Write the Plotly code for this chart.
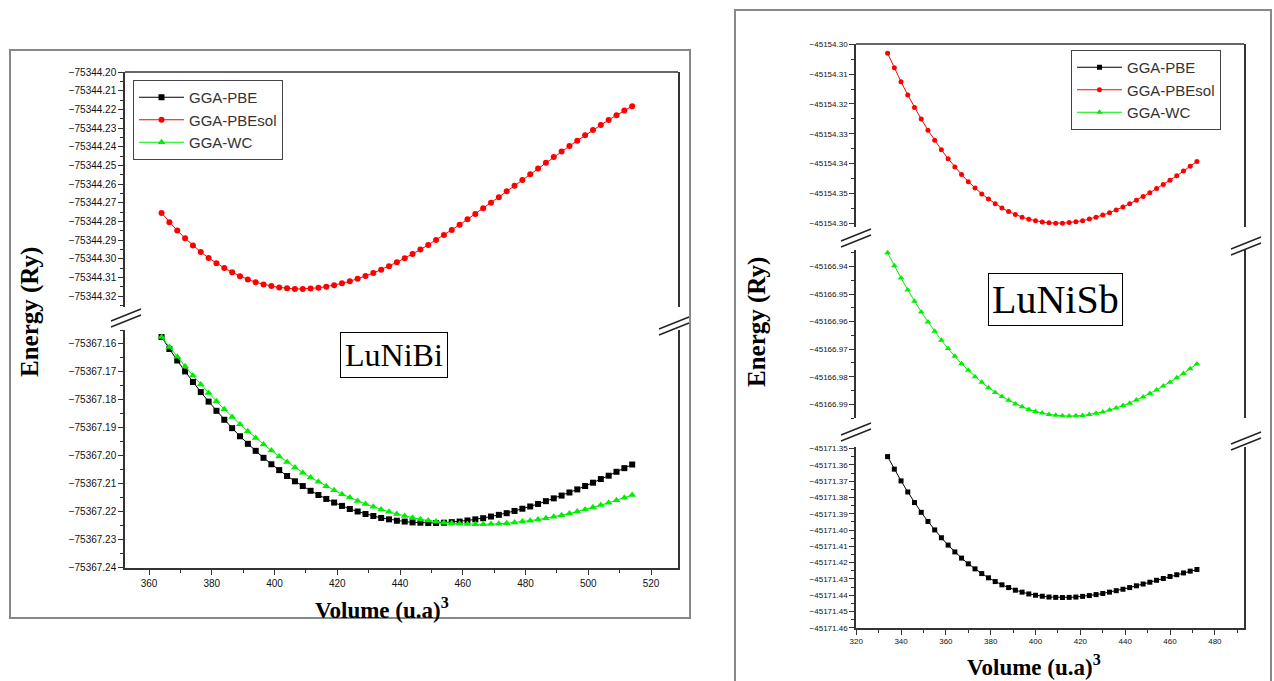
import plotly.graph_objects as go

# ---------------- data: LuNiBi (left panel) ----------------
vol_lunibi = [364, 366.5, 369, 371.5, 374, 376.5, 379, 381.5, 384, 386.5, 389, 391.5, 394, 396.5,
              399, 401.5, 404, 406.5, 409, 411.5, 414, 416.5, 419, 421.5, 424, 426.5, 429, 431.5,
              434, 436.5, 439, 441.5, 444, 446.5, 449, 451.5, 454, 456.5, 459, 461.5, 464, 466.5,
              469, 471.5, 474, 476.5, 479, 481.5, 484, 486.5, 489, 491.5, 494, 496.5, 499, 501.5,
              504, 506.5, 509, 511.5, 514]

e_lunibi_pbe = [-75367.1575, -75367.1618, -75367.1659, -75367.1698, -75367.1736, -75367.1772,
                -75367.1806, -75367.1839, -75367.1871, -75367.1901, -75367.1930, -75367.1957,
                -75367.1982, -75367.2007, -75367.2030, -75367.2051, -75367.2072, -75367.2091,
                -75367.2108, -75367.2125, -75367.2140, -75367.2154, -75367.2167, -75367.2179,
                -75367.2190, -75367.2199, -75367.2208, -75367.2215, -75367.2222, -75367.2227,
                -75367.2232, -75367.2235, -75367.2238, -75367.2239, -75367.2240, -75367.2240,
                -75367.2239, -75367.2237, -75367.2235, -75367.2231, -75367.2227, -75367.2223,
                -75367.2217, -75367.2211, -75367.2205, -75367.2197, -75367.2189, -75367.2181,
                -75367.2172, -75367.2162, -75367.2152, -75367.2142, -75367.2131, -75367.2120,
                -75367.2108, -75367.2096, -75367.2083, -75367.2071, -75367.2057, -75367.2044,
                -75367.2031]

e_lunibi_pbesol = [-75344.2755, -75344.2804, -75344.2849, -75344.2890, -75344.2929, -75344.2964,
                   -75344.2996, -75344.3025, -75344.3050, -75344.3073, -75344.3094, -75344.3111,
                   -75344.3126, -75344.3138, -75344.3147, -75344.3154, -75344.3159, -75344.3162,
                   -75344.3162, -75344.3160, -75344.3156, -75344.3150, -75344.3142, -75344.3132,
                   -75344.3121, -75344.3108, -75344.3093, -75344.3077, -75344.3059, -75344.3040,
                   -75344.3019, -75344.2997, -75344.2975, -75344.2951, -75344.2926, -75344.2900,
                   -75344.2873, -75344.2846, -75344.2818, -75344.2789, -75344.2760, -75344.2730,
                   -75344.2700, -75344.2670, -75344.2639, -75344.2609, -75344.2578, -75344.2547,
                   -75344.2516, -75344.2486, -75344.2455, -75344.2425, -75344.2396, -75344.2367,
                   -75344.2338, -75344.2310, -75344.2283, -75344.2256, -75344.2231, -75344.2206,
                   -75344.2182]

e_lunibi_wc = [-75367.1575, -75367.1611, -75367.1646, -75367.1680, -75367.1713, -75367.1745,
               -75367.1775, -75367.1805, -75367.1833, -75367.1861, -75367.1887, -75367.1912,
               -75367.1936, -75367.1959, -75367.1981, -75367.2002, -75367.2022, -75367.2042,
               -75367.2060, -75367.2077, -75367.2093, -75367.2109, -75367.2123, -75367.2137,
               -75367.2149, -75367.2161, -75367.2172, -75367.2182, -75367.2192, -75367.2200,
               -75367.2208, -75367.2215, -75367.2221, -75367.2227, -75367.2231, -75367.2235,
               -75367.2239, -75367.2241, -75367.2243, -75367.2244, -75367.2245, -75367.2245,
               -75367.2244, -75367.2243, -75367.2241, -75367.2238, -75367.2235, -75367.2232,
               -75367.2228, -75367.2223, -75367.2218, -75367.2212, -75367.2206, -75367.2199,
               -75367.2192, -75367.2184, -75367.2176, -75367.2168, -75367.2159, -75367.2150,
               -75367.2140]

# ---------------- data: LuNiSb (right panel) ----------------
vol_lunisb = [334, 337, 340, 343, 346, 349, 352, 355, 358, 361, 364, 367, 370, 373, 376, 379,
              382, 385, 388, 391, 394, 397, 400, 403, 406, 409, 412, 415, 418, 421, 424, 427,
              430, 433, 436, 439, 442, 445, 448, 451, 454, 457, 460, 463, 466, 469, 472]

e_lunisb_pbe = [-45171.3549, -45171.3626, -45171.3698, -45171.3766, -45171.3831, -45171.3891,
                -45171.3947, -45171.3999, -45171.4047, -45171.4092, -45171.4134, -45171.4172,
                -45171.4207, -45171.4238, -45171.4267, -45171.4293, -45171.4316, -45171.4336,
                -45171.4353, -45171.4369, -45171.4381, -45171.4392, -45171.4400, -45171.4406,
                -45171.4411, -45171.4413, -45171.4414, -45171.4413, -45171.4411, -45171.4407,
                -45171.4402, -45171.4396, -45171.4389, -45171.4381, -45171.4372, -45171.4363,
                -45171.4353, -45171.4342, -45171.4331, -45171.4320, -45171.4308, -45171.4297,
                -45171.4285, -45171.4274, -45171.4263, -45171.4252, -45171.4242]

e_lunisb_pbesol = [-45154.3030, -45154.3079, -45154.3126, -45154.3170, -45154.3212, -45154.3251,
                   -45154.3288, -45154.3322, -45154.3354, -45154.3384, -45154.3412, -45154.3437,
                   -45154.3461, -45154.3482, -45154.3502, -45154.3519, -45154.3535, -45154.3549,
                   -45154.3561, -45154.3571, -45154.3580, -45154.3587, -45154.3592, -45154.3596,
                   -45154.3599, -45154.3600, -45154.3600, -45154.3598, -45154.3595, -45154.3592,
                   -45154.3586, -45154.3580, -45154.3573, -45154.3565, -45154.3556, -45154.3546,
                   -45154.3535, -45154.3523, -45154.3511, -45154.3498, -45154.3484, -45154.3470,
                   -45154.3456, -45154.3441, -45154.3425, -45154.3409, -45154.3393]

e_lunisb_wc = [-45166.9350, -45166.9397, -45166.9442, -45166.9485, -45166.9526, -45166.9565,
               -45166.9601, -45166.9635, -45166.9668, -45166.9698, -45166.9726, -45166.9753,
               -45166.9777, -45166.9800, -45166.9820, -45166.9840, -45166.9857, -45166.9872,
               -45166.9886, -45166.9899, -45166.9909, -45166.9919, -45166.9926, -45166.9932,
               -45166.9937, -45166.9940, -45166.9942, -45166.9943, -45166.9942, -45166.9941,
               -45166.9937, -45166.9933, -45166.9928, -45166.9921, -45166.9914, -45166.9905,
               -45166.9896, -45166.9885, -45166.9874, -45166.9861, -45166.9848, -45166.9834,
               -45166.9820, -45166.9804, -45166.9788, -45166.9771, -45166.9754]

series_names = ["GGA-PBE", "GGA-PBEsol", "GGA-WC"]

# ---------------- helpers ----------------
W, H = 1274, 681


def px(x):
    return x / W


def py(y):
    return 1 - y / H


BLACK, RED, GREEN = "#000000", "#ff0000", "#00ee00"
tick_font_l = dict(family="Liberation Sans, Arial", size=10, color="#111")
tick_font_r = dict(family="Liberation Sans, Arial", size=8, color="#111")

fig = go.Figure()


def add(x, y, name, xa, ya, leg, color, symbol, size):
    fig.add_trace(go.Scatter(
        x=x, y=y, name=name, mode="lines+markers", xaxis=xa, yaxis=ya, legend=leg,
        line=dict(color=color, width=1),
        marker=dict(symbol=symbol, size=size, color=color),
        cliponaxis=False, hoverinfo="x+y+name"))


# left panel
add(vol_lunibi, e_lunibi_pbe, series_names[0], "x", "y", "legend", BLACK, "square", 6)
add(vol_lunibi, e_lunibi_pbesol, series_names[1], "x", "y2", "legend", RED, "circle", 6)
add(vol_lunibi, e_lunibi_wc, series_names[2], "x", "y", "legend", GREEN, "triangle-up", 7)
# right panel
add(vol_lunisb, e_lunisb_pbe, series_names[0], "x3", "y3", "legend2", BLACK, "square", 5)
add(vol_lunisb, e_lunisb_pbesol, series_names[1], "x3", "y5", "legend2", RED, "circle", 5)
add(vol_lunisb, e_lunisb_wc, series_names[2], "x3", "y4", "legend2", GREEN, "triangle-up", 6)


def xax(domain, rng, anchor, font):
    return dict(domain=domain, range=rng, anchor=anchor, showline=True, linecolor="#333",
                linewidth=1.5, ticks="outside", ticklen=5, tickwidth=1, tickcolor="#333",
                tick0=320, dtick=20, minor=dict(dtick=10, ticks="outside", ticklen=3, tickcolor="#333"),
                showgrid=False, zeroline=False, tickfont=font, automargin=False)


def yax(domain, rng, anchor, font, t0):
    return dict(domain=domain, range=rng, anchor=anchor, showline=True, linecolor="#333",
                linewidth=1.5, mirror=True, ticks="outside", ticklen=5, tickwidth=1,
                tickcolor="#333", tick0=t0, dtick=0.01, tickformat=".2f",
                minor=dict(dtick=0.005, ticks="outside", ticklen=3, tickcolor="#333"),
                showgrid=False, zeroline=False, tickfont=font, automargin=False)


legend_common = dict(xanchor="left", yanchor="top", bordercolor="#444", borderwidth=1,
                     bgcolor="white", tracegroupgap=0, itemwidth=45,
                     font=dict(family="Liberation Sans, Arial", size=15, color="#333"))


def brk(cx, cy):
    out = []
    for off in (-3, 3):
        out.append(dict(type="line", xref="paper", yref="paper",
                        x0=px(cx - 15), y0=py(cy + off + 6), x1=px(cx + 15), y1=py(cy + off - 6),
                        line=dict(color="#222", width=1.5)))
    return out


shapes = [
    dict(type="rect", xref="paper", yref="paper", x0=px(10), x1=px(690), y0=py(618), y1=py(50),
         line=dict(color="#888", width=2)),
    dict(type="rect", xref="paper", yref="paper", x0=px(735), x1=px(1271), y0=-0.05, y1=py(10),
         line=dict(color="#888", width=2)),
    dict(type="line", xref="x domain", yref="y2 domain", x0=0, x1=1, y0=1, y1=1,
         line=dict(color="#333", width=1.5)),
    dict(type="line", xref="x3 domain", yref="y5 domain", x0=0, x1=1, y0=1, y1=1,
         line=dict(color="#333", width=1.5)),
]
shapes += brk(126, 318) + brk(674, 326)
shapes += brk(856, 238) + brk(856, 432) + brk(1246, 246) + brk(1246, 441)

serif = "Liberation Serif, Times New Roman"
yt_font = dict(family=serif, size=25, color="black")
xt_font = dict(family=serif, size=23, color="black")
annotations = [
    dict(text="<b>Energy (Ry)</b>", x=px(30), y=py(312), textangle=-90, font=yt_font),
    dict(text="<b>Volume (u.a)<sup>3</sup></b>", x=px(382), y=py(592), yanchor="top", font=xt_font),
    dict(text="<b>Energy (Ry)</b>", x=px(757), y=py(322), textangle=-90, font=yt_font),
    dict(text="<b>Volume (u.a)<sup>3</sup></b>", x=px(1034), y=py(649), yanchor="top", font=xt_font),
    dict(text="LuNiBi", x=px(394), y=py(355),
         font=dict(family=serif, size=32, color="black"),
         bordercolor="black", borderwidth=1, borderpad=4, bgcolor="white"),
    dict(text="LuNiSb", x=px(1055), y=py(299),
         font=dict(family=serif, size=40, color="black"),
         bordercolor="black", borderwidth=1, borderpad=3, bgcolor="white"),
]
for a in annotations:
    a.setdefault("xref", "paper")
    a.setdefault("yref", "paper")
    a.setdefault("showarrow", False)
    a.setdefault("xanchor", "center")
    a.setdefault("yanchor", "middle")

fig.update_layout(
    template="none",
    width=W, height=H,
    margin=dict(l=0, r=0, t=0, b=0),
    paper_bgcolor="white", plot_bgcolor="white",
    xaxis=xax([px(125), px(678)], [352.35, 528.6], "y", tick_font_l),
    yaxis=yax([py(568), py(330)], [-75367.2401, -75367.155], "x", tick_font_l, -75367.24),
    yaxis2=yax([py(307), py(72)], [-75344.3259, -75344.1999], "x", tick_font_l, -75344.20),
    xaxis3=xax([px(856), px(1244)], [319.9, 493], "y3", tick_font_r),
    yaxis3=yax([py(628), py(447)], [-45171.4601, -45171.349], "x3", tick_font_r, -45171.46),
    yaxis4=yax([py(418), py(250)], [-45166.995, -45166.934], "x3", tick_font_r, -45166.99),
    yaxis5=yax([py(227), py(44)], [-45154.3613, -45154.2999], "x3", tick_font_r, -45154.30),
    legend=dict(x=px(133), y=py(80), **legend_common),
    legend2=dict(x=px(1071), y=py(50), **legend_common),
    shapes=shapes,
    annotations=annotations,
    showlegend=True,
)

fig.write_html("out.html")
